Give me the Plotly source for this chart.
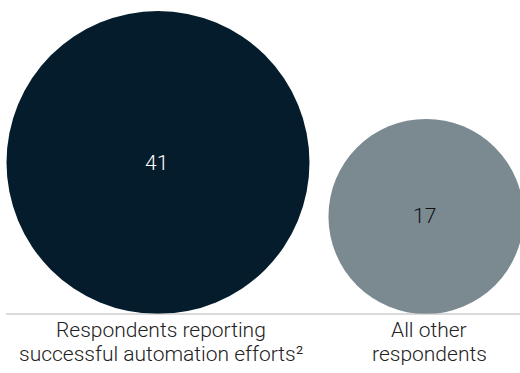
import math
import plotly.graph_objects as go

categories = ["Respondents reporting<br>successful automation efforts²",
              "All other<br>respondents"]
values = [41, 17]
colors = ["#051c2c", "#7b8991"]
value_colors = ["#ffffff", "#111111"]

W, H = 520, 373
baseline = 314
centers_x = [158, 426]
max_r = 151.5
k = max_r / math.sqrt(max(values))

fig = go.Figure()
shapes = []
annotations = []
for cat, v, c, tc, cx in zip(categories, values, colors, value_colors, centers_x):
    r = k * math.sqrt(v)
    cy = baseline - r
    shapes.append(dict(type="circle", xref="x", yref="y",
                       x0=cx - r, x1=cx + r, y0=cy - r, y1=cy + r,
                       fillcolor=c, line=dict(width=0), layer="below"))
    annotations.append(dict(x=cx - 2, y=cy, xref="x", yref="y", text=str(v),
                            showarrow=False,
                            font=dict(family="Roboto", size=21, color=tc, weight=300)))
    for i, line in enumerate(cat.split("<br>")):
        annotations.append(dict(x=cx + 3, y=baseline + 16 + 24 * i, xref="x", yref="y",
                                text=line, showarrow=False, yanchor="middle", align="center",
                                font=dict(family="Roboto", size=21, color="#222222", weight=300)))

shapes.append(dict(type="line", xref="x", yref="y", x0=6, x1=W, y0=baseline, y1=baseline,
                   line=dict(color="#b5b5b5", width=1.2)))

fig.update_layout(
    width=W, height=H,
    margin=dict(l=0, r=0, t=0, b=0),
    paper_bgcolor="white", plot_bgcolor="white",
    xaxis=dict(range=[0, W], visible=False, fixedrange=True),
    yaxis=dict(range=[H, 0], visible=False, fixedrange=True),
    shapes=shapes, annotations=annotations,
    showlegend=False,
)
fig.write_html("out.html")
